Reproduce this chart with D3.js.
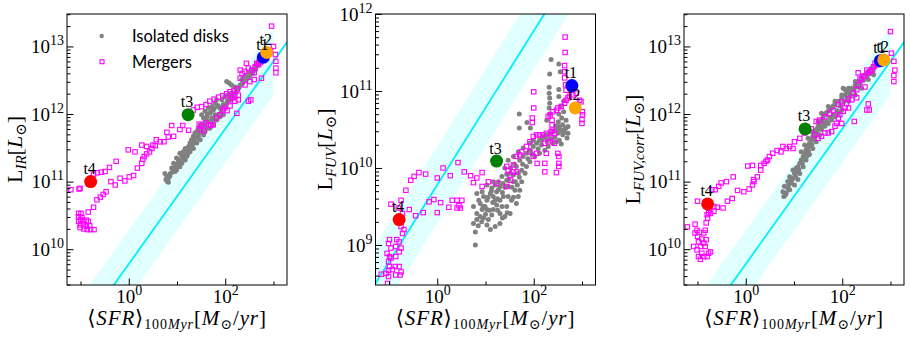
<!DOCTYPE html>
<html><head><meta charset="utf-8">
<script src="https://cdn.jsdelivr.net/npm/d3@7"></script>
<style>html,body{margin:0;padding:0;background:#fff}svg{display:block}</style>
</head><body><svg id="c" width="910" height="338"></svg>
<script>
// ---------- DATA (stored as log10: [log10 SFR, log10 L]) ----------
const isoIR = [[0.77,11.03],[0.82,10.99],[0.79,11.08],[0.86,11.12],[0.75,11.12],[0.89,11.20],[0.96,11.22],[0.93,11.27],[1.03,11.28],[0.99,11.35],[1.10,11.37],[1.06,11.42],[1.13,11.44],[1.17,11.49],[0.96,11.15],[1.10,11.27],[1.20,11.37],[1.24,11.52],[1.27,11.57],[1.30,11.62],[1.34,11.67],[1.37,11.72],[1.41,11.74],[1.44,11.79],[1.48,11.84],[1.55,11.86],[1.27,11.44],[1.34,11.49],[1.41,11.57],[1.48,11.62],[1.55,11.69],[1.58,11.74],[1.62,11.79],[1.51,11.99],[1.58,12.04],[1.65,12.09],[1.72,12.11],[1.79,12.16],[1.82,12.21],[1.68,12.01],[1.75,12.06],[1.86,12.11],[1.68,11.79],[1.75,11.84],[1.82,11.91],[1.89,11.96],[1.96,11.99],[1.93,12.21],[1.99,12.26],[2.06,12.28],[2.13,12.31],[2.03,12.16],[2.10,12.21],[2.17,12.24],[2.03,12.48],[2.08,12.46],[2.13,12.43],[2.20,12.40],[2.27,12.37],[2.24,12.38],[2.31,12.43],[2.37,12.48],[2.44,12.53],[2.51,12.58],[2.58,12.63],[2.34,12.51],[2.41,12.56],[2.48,12.61],[2.55,12.65],[2.62,12.70],[2.65,12.75],[2.69,12.78],[2.72,12.80],[2.75,12.83],[0.82,11.05],[0.99,11.17],[1.06,11.22],[1.17,11.32],[1.17,11.40],[1.24,11.44],[1.30,11.52],[1.37,11.59],[1.44,11.67],[1.51,11.74],[1.58,11.82],[1.65,11.89],[1.62,11.96],[1.72,11.94],[1.79,11.99],[1.89,12.09],[1.96,12.14],[2.10,12.26],[2.20,12.31],[2.24,12.36],[0.80,11.00],[0.85,11.08],[0.90,11.14],[0.95,11.19],[1.00,11.24],[1.03,11.32],[1.08,11.30],[1.12,11.35],[1.14,11.41],[1.20,11.45],[1.22,11.40],[1.26,11.49],[1.32,11.55],[1.35,11.62],[1.39,11.64],[1.42,11.70],[1.46,11.72],[1.50,11.78],[1.53,11.81],[1.57,11.86],[1.60,11.90],[1.55,11.94],[1.63,12.00],[1.70,12.03],[1.77,12.08],[1.84,12.13],[1.70,11.88],[1.77,11.92],[1.85,11.98],[1.92,12.03],[1.99,12.10],[2.05,12.20],[2.13,12.27],[2.22,12.33],[2.29,12.40],[2.36,12.45],[2.43,12.50],[2.50,12.55],[2.57,12.60],[2.63,12.66],[2.68,12.72],[2.78,12.85],[2.70,12.75],[2.60,12.66]];

const mergersIR = [[-1.04,10.53],[-0.99,10.53],[-1.04,10.48],[-1.00,10.44],[-1.04,10.41],[-0.95,10.42],[-0.88,10.43],[-0.84,10.41],[-0.94,10.37],[-1.01,10.32],[-0.93,10.30],[-0.86,10.29],[-0.79,10.29],[-0.72,10.29],[-0.81,10.35],[-0.88,10.34],[-1.00,10.36],[-0.97,10.47],[-0.84,10.55],[-0.73,10.62],[-0.66,10.73],[-0.59,10.77],[-0.53,10.81],[-0.47,10.85],[-0.37,11.00],[-0.28,10.95],[-0.18,11.05],[-0.08,11.01],[0.01,11.07],[0.10,11.09],[0.18,11.20],[0.27,11.27],[0.29,11.33],[0.32,11.37],[0.37,11.41],[0.43,11.44],[0.48,11.49],[0.55,11.53],[-1.20,10.88],[-1.03,10.89],[-1.01,10.90],[-0.73,11.11],[-0.65,11.13],[-0.57,11.14],[-0.49,11.15],[-0.40,11.21],[-0.26,11.30],[-0.01,11.47],[0.13,11.44],[0.27,11.54],[0.37,11.52],[0.50,11.54],[0.57,11.62],[0.65,11.59],[0.73,11.59],[0.79,11.73],[0.89,11.83],[0.82,11.66],[0.93,11.67],[1.06,11.77],[1.12,11.83],[1.24,11.76],[1.34,12.06],[1.42,12.10],[1.51,12.11],[1.60,12.14],[1.68,12.19],[1.77,12.22],[1.86,12.25],[1.95,12.27],[2.03,12.30],[2.10,12.33],[2.18,12.35],[2.25,12.37],[1.46,11.85],[1.51,11.82],[1.56,11.75],[1.60,11.87],[1.65,11.84],[1.70,11.83],[1.75,11.84],[1.48,11.77],[1.82,11.94],[1.89,11.99],[1.95,12.06],[1.99,12.09],[2.04,12.05],[2.10,12.12],[2.24,12.01],[2.48,12.19],[2.53,12.21],[2.10,12.21],[2.15,12.24],[2.20,12.27],[2.27,12.28],[2.27,12.21],[2.20,12.19],[2.31,12.65],[2.35,12.60],[2.40,12.63],[2.44,12.75],[2.48,12.68],[2.55,12.65],[2.60,12.61],[2.65,12.75],[2.71,12.79],[2.75,12.53],[2.41,12.43],[2.51,12.48],[2.60,12.51],[2.31,12.53],[2.96,13.30],[3.00,13.00],[3.04,12.88],[3.05,12.78],[3.05,12.68],[3.05,12.61],[2.79,12.83],[2.82,12.86],[2.89,12.91],[2.94,12.94],[2.62,12.70],[2.69,12.73],[2.73,12.76]];

const isoFUV = [[0.79,9.00],[0.79,9.17],[0.75,9.28],[0.82,9.33],[0.89,9.37],[0.82,9.41],[0.93,9.46],[0.99,9.50],[0.89,9.54],[1.03,9.58],[0.96,9.63],[1.10,9.67],[1.06,9.33],[1.13,9.39],[1.16,9.46],[1.23,9.52],[1.20,9.58],[1.13,9.74],[1.23,9.69],[1.30,9.76],[1.27,9.82],[1.37,9.63],[1.34,9.50],[1.40,9.37],[1.30,9.28],[1.20,9.24],[1.10,9.20],[1.03,9.26],[0.96,9.35],[1.47,9.76],[1.44,9.84],[1.34,9.89],[1.40,10.00],[1.51,9.93],[1.58,9.91],[1.58,9.82],[1.68,9.63],[1.64,9.54],[1.54,9.58],[1.71,9.71],[1.75,9.82],[1.82,9.93],[0.86,9.58],[0.93,9.69],[1.03,9.78],[1.16,9.82],[1.16,9.63],[1.30,9.58],[1.44,9.50],[1.47,9.63],[1.61,9.71],[1.30,9.41],[1.03,9.46],[0.75,9.50],[0.82,9.67],[1.51,9.41],[1.64,10.02],[1.71,10.10],[1.78,10.15],[1.85,10.19],[1.92,10.23],[1.99,10.28],[2.06,10.32],[2.12,10.36],[2.19,10.39],[2.26,10.41],[2.33,10.45],[2.40,10.47],[2.47,10.49],[2.53,10.52],[2.60,10.56],[2.67,10.62],[2.67,10.52],[2.71,10.45],[2.60,10.43],[2.53,10.36],[2.47,10.34],[2.40,10.32],[2.30,10.28],[2.23,10.23],[2.12,10.19],[2.02,10.15],[1.92,10.08],[1.85,10.02],[1.75,9.97],[1.68,9.93],[2.36,11.41],[2.52,11.35],[2.33,11.22],[2.55,11.25],[2.32,11.05],[2.32,10.97],[2.33,10.91],[2.33,10.84],[2.32,10.78],[2.52,11.02],[2.52,10.93],[2.62,10.87],[2.55,10.80],[2.62,10.73],[1.70,10.70],[1.86,10.59],[1.70,10.52],[1.93,10.52],[2.27,10.62],[2.51,10.60],[2.52,10.54],[2.64,10.46],[2.69,10.39],[2.71,10.54],[2.26,10.43],[2.19,10.41],[2.16,10.36],[2.57,10.31],[1.47,10.10],[1.58,10.15],[1.68,10.21],[1.78,10.26],[1.92,10.32],[1.99,10.36],[0.85,9.25],[0.92,9.30],[1.00,9.40],[1.08,9.45],[1.15,9.55],[1.25,9.60],[1.35,9.68],[1.40,9.75],[1.48,9.85],[1.55,9.75],[1.62,9.82],[1.70,9.88],[0.95,9.50],[1.05,9.62],[1.12,9.70],[1.20,9.78],[1.27,9.72],[1.36,9.80],[1.44,9.92],[1.52,10.00],[1.60,10.05],[1.25,9.45],[1.35,9.35],[1.45,9.42],[1.58,9.62],[1.66,9.78],[1.77,10.05],[1.88,10.12],[1.96,10.18],[2.09,10.25],[2.16,10.30],[2.28,10.35],[2.36,10.38],[2.44,10.40],[2.50,10.45],[2.56,10.48],[2.63,10.50],[2.45,10.55],[2.58,10.65],[2.33,10.70],[2.52,10.70]];

const mergersFUV = [[-1.16,8.62],[-1.06,8.63],[-1.01,8.59],[-0.99,8.72],[-1.01,8.78],[-0.96,8.83],[-1.04,8.89],[-0.96,8.96],[-1.01,9.02],[-0.99,9.07],[-0.84,9.07],[-0.79,9.04],[-0.86,8.98],[-0.79,8.91],[-0.86,8.85],[-0.79,8.72],[-0.75,8.65],[-0.77,8.61],[-0.86,8.61],[-0.93,8.68],[-1.03,8.50],[-1.01,8.67],[-0.87,8.72],[-0.99,8.85],[-0.75,8.96],[-0.72,9.15],[-0.69,9.20],[-0.75,9.24],[-0.82,9.33],[-0.72,9.41],[-0.75,9.58],[-0.65,9.71],[-0.96,9.53],[-0.81,9.48],[-0.55,9.84],[-0.48,9.89],[-0.38,9.94],[-0.24,9.92],[-0.58,9.46],[-0.45,9.38],[-0.29,9.42],[-0.17,9.56],[-0.07,9.59],[0.00,9.87],[0.12,10.00],[0.27,9.90],[0.43,10.07],[0.56,9.95],[0.00,9.42],[0.07,9.55],[0.24,9.49],[0.31,9.58],[0.41,9.58],[0.45,9.51],[0.48,9.48],[0.51,9.58],[0.41,9.48],[0.69,9.90],[0.75,9.81],[0.82,9.87],[0.93,9.76],[0.93,9.94],[1.06,9.82],[1.23,9.80],[1.47,9.97],[1.51,9.91],[1.58,9.95],[1.64,9.95],[1.44,9.76],[1.52,9.84],[1.44,10.02],[1.58,10.04],[1.64,10.15],[1.71,10.17],[1.75,10.21],[1.85,10.28],[1.92,10.34],[1.99,10.41],[2.06,10.43],[2.12,10.43],[2.19,10.43],[2.26,10.45],[2.36,10.47],[2.43,10.45],[2.36,10.39],[2.30,10.34],[2.23,10.32],[2.43,10.32],[1.99,10.15],[1.92,10.21],[2.06,10.19],[2.07,10.06],[2.23,10.06],[2.26,10.19],[2.23,9.95],[2.47,9.94],[2.50,10.19],[2.52,10.15],[2.52,10.06],[2.52,10.02],[2.00,10.99],[2.00,10.78],[1.97,10.65],[1.97,10.59],[2.30,10.67],[2.34,10.69],[2.40,10.73],[2.47,10.75],[2.50,10.78],[2.57,10.80],[2.64,10.84],[2.67,10.88],[2.71,10.91],[2.74,10.93],[2.81,10.95],[2.88,10.97],[2.95,10.88],[2.98,10.86],[3.01,10.73],[3.01,10.69],[3.00,10.63],[3.00,10.58],[2.38,10.62],[2.38,10.56],[2.38,10.49],[2.65,11.70],[2.65,11.50],[2.64,11.33],[2.64,11.25],[2.64,11.17],[2.66,11.08],[2.67,11.01]];

const isoFUVcorr = [[0.79,10.78],[0.77,10.85],[0.84,10.83],[0.80,10.93],[0.87,10.90],[0.87,11.00],[0.94,10.98],[0.91,11.07],[0.98,11.05],[1.01,11.12],[1.05,11.20],[0.98,11.17],[1.08,11.22],[1.12,11.27],[1.15,11.32],[1.19,11.37],[1.22,11.42],[1.15,11.44],[1.25,11.47],[1.29,11.52],[1.22,11.54],[1.32,11.57],[1.36,11.62],[1.29,11.64],[1.39,11.67],[1.43,11.72],[1.36,11.74],[1.46,11.77],[1.50,11.82],[1.53,11.86],[1.57,11.91],[1.50,11.89],[1.60,11.94],[1.64,11.99],[1.71,12.04],[1.78,12.09],[1.85,12.14],[1.92,12.19],[1.99,12.24],[2.06,12.28],[2.13,12.33],[2.20,12.38],[2.27,12.43],[2.33,12.48],[2.40,12.53],[2.47,12.58],[2.54,12.63],[2.61,12.68],[2.68,12.70],[2.75,12.75],[2.82,12.78],[1.57,11.77],[1.64,11.82],[1.71,11.86],[1.78,11.91],[1.85,11.96],[1.92,12.01],[1.99,12.06],[2.13,12.19],[2.27,12.28],[2.40,12.38],[2.54,12.51],[2.65,12.58],[1.57,12.01],[1.71,12.11],[1.85,12.19],[1.99,12.28],[2.13,12.38],[2.27,12.48],[2.02,12.38],[2.06,12.36],[2.09,12.33],[2.14,12.31],[0.91,10.88],[1.01,10.95],[1.08,11.03],[1.12,11.12],[1.19,11.22],[1.25,11.32],[1.32,11.40],[1.39,11.49],[1.46,11.59],[1.53,11.69],[0.82,10.80],[0.89,10.95],[0.95,11.02],[1.03,11.08],[1.06,11.15],[1.10,11.18],[1.17,11.27],[1.20,11.33],[1.27,11.38],[1.30,11.45],[1.34,11.52],[1.37,11.55],[1.41,11.62],[1.44,11.67],[1.48,11.72],[1.52,11.78],[1.55,11.82],[1.62,11.87],[1.60,11.99],[1.67,12.02],[1.74,12.07],[1.81,12.12],[1.68,11.89],[1.75,11.95],[1.82,11.99],[1.89,12.05],[1.96,12.12],[2.03,12.18],[2.10,12.23],[2.17,12.28],[2.24,12.35],[2.31,12.40],[2.37,12.45],[2.44,12.50],[2.51,12.56],[2.58,12.60],[2.64,12.64],[2.72,12.72],[2.78,12.76]];

const mergersFUVcorr = [[-1.21,10.33],[-1.05,10.37],[-1.01,10.28],[-1.05,10.24],[-1.00,10.19],[-1.08,10.04],[-1.01,9.99],[-0.94,10.04],[-0.98,10.11],[-0.91,10.15],[-0.87,10.24],[-0.82,10.14],[-0.84,10.04],[-0.91,9.94],[-0.98,9.89],[-0.94,9.85],[-0.87,9.89],[-0.80,9.89],[-0.77,9.94],[-0.73,9.96],[-0.96,10.25],[-0.87,10.09],[-0.84,10.28],[-0.82,10.39],[-0.79,10.46],[-0.80,10.51],[-0.77,10.54],[-0.66,10.63],[-0.59,10.62],[-0.47,10.61],[-0.66,10.56],[-0.73,10.53],[-1.00,10.71],[-0.70,10.88],[-0.63,10.88],[-0.56,10.93],[-0.51,10.98],[-0.40,11.00],[-0.26,11.07],[-0.38,10.71],[-0.28,10.75],[-0.17,10.87],[-0.04,10.85],[0.07,10.89],[0.14,10.95],[0.17,11.00],[0.24,11.07],[0.31,11.17],[0.31,11.24],[0.38,11.27],[0.42,11.30],[0.45,11.32],[0.16,11.03],[0.04,11.23],[0.14,11.24],[0.49,11.37],[0.56,11.42],[0.65,11.46],[0.73,11.44],[0.77,11.52],[0.84,11.49],[0.91,11.52],[0.98,11.49],[1.01,11.59],[1.12,11.64],[1.22,11.72],[1.36,11.78],[1.46,11.89],[1.53,11.91],[1.64,11.96],[1.74,12.01],[1.81,12.05],[1.92,12.14],[1.99,12.18],[2.09,12.16],[2.13,12.23],[2.20,12.21],[2.30,12.24],[1.43,11.69],[1.50,11.64],[1.57,11.67],[1.64,11.72],[1.71,11.72],[1.78,11.74],[1.85,11.82],[1.88,11.86],[1.92,11.94],[1.95,11.99],[2.02,12.04],[2.06,12.09],[2.13,12.09],[1.99,11.86],[2.25,11.89],[2.51,12.06],[2.56,12.06],[2.54,12.15],[2.23,12.31],[2.30,12.36],[2.33,12.43],[2.40,12.51],[2.47,12.56],[2.54,12.61],[2.61,12.65],[2.65,12.70],[2.68,12.75],[2.75,12.78],[2.79,12.80],[2.33,12.61],[2.37,12.53],[2.44,12.56],[2.51,12.65],[2.58,12.63],[2.47,12.40],[2.72,12.73],[3.00,13.22],[3.02,12.90],[3.07,12.78],[3.09,12.65],[3.07,12.57],[3.07,12.48]];

// snapshots t1..t4 (log10)
const snapNames = ["t1", "t2", "t3", "t4"];
const snapSFR = [2.79, 2.86, 1.23, -0.79];
const snapIR = [12.84, 12.91, 11.99, 11.00];
const snapFUV = [11.07, 10.78, 10.09, 9.33];
const snapFUVcorr = [12.79, 12.80, 11.78, 10.67];

// Kennicutt relation: log10 L = log10 SFR + 9.78, shaded +/- 0.5 dex
const relLogK = 9.78;
const relBandDex = 0.5;
const relLineSFR = [1e-3, 1e4];
const relBandSFR = [1e-3, 1e3];

const legendLabels = ["Isolated disks", "Mergers"];
const xTickExp = [0, 2];
const xMinorExp = [-1, 1, 3];

// ---------- STYLE / LAYOUT ----------
const snapColors = ["#0000ff", "#ffa500", "#008000", "#ff0000"];
const SERIF = "'Liberation Serif','DejaVu Serif',serif";
const SANS = "Lato,'Open Sans',sans-serif";
const TOP = 14, BOTTOM = 285, W = 220;
const xLogDomain = [-1.28, 3.28];
const panels = [
  {left: 67, yLog: [9.47, 13.48], iso: isoIR, mer: mergersIR, snap: snapIR, sub: "IR", labX: 22, legend: true},
  {left: 375.5, yLog: [8.48, 12.0], iso: isoFUV, mer: mergersFUV, snap: snapFUV, sub: "FUV", labX: 332},
  {left: 684, yLog: [9.47, 13.48], iso: isoFUVcorr, mer: mergersFUVcorr, snap: snapFUVcorr, sub: "FUV,corr", labX: 639.5}
];

const svg = d3.select("#c");
const pow = v => Math.pow(10, v);
const toVal = d => [pow(d[0]), pow(d[1])];

panels.forEach((p, i) => {
  const x = d3.scaleLog().domain(xLogDomain.map(pow)).range([p.left, p.left + W]);
  const y = d3.scaleLog().domain(p.yLog.map(pow)).range([BOTTOM, TOP]);
  const cid = "clip" + i;
  svg.append("clipPath").attr("id", cid).append("rect")
    .attr("x", p.left).attr("y", TOP).attr("width", W).attr("height", BOTTOM - TOP);
  const g = svg.append("g").attr("clip-path", `url(#${cid})`);

  const K = pow(relLogK), B = pow(relBandDex);
  g.append("path").datum(relBandSFR)
    .attr("d", d3.area().x(d => x(d)).y0(d => y(d * K / B)).y1(d => y(d * K * B)))
    .attr("fill", "#e0ffff");
  g.append("path").datum(relLineSFR)
    .attr("d", d3.line().x(d => x(d)).y(d => y(d * K)))
    .attr("fill", "none").attr("stroke", "#00eeff").attr("stroke-width", 1.8);

  g.selectAll("circle.iso").data(p.iso.map(toVal)).join("circle").attr("class", "iso")
    .attr("cx", d => x(d[0])).attr("cy", d => y(d[1])).attr("r", 2.5).attr("fill", "#808080");

  const s = 4.4;
  g.selectAll("rect.mer").data(p.mer.map(toVal)).join("rect").attr("class", "mer")
    .attr("x", d => x(d[0]) - s / 2).attr("y", d => y(d[1]) - s / 2)
    .attr("width", s).attr("height", s)
    .attr("fill", "none").attr("stroke", "#ff00ff").attr("stroke-width", 1.1);

  snapNames.forEach((n, k) => {
    g.append("circle").attr("cx", x(pow(snapSFR[k]))).attr("cy", y(pow(p.snap[k])))
      .attr("r", 6.5).attr("fill", snapColors[k]);
  });
  snapNames.forEach((n, k) => {
    g.append("text").attr("x", x(pow(snapSFR[k])) - 1).attr("y", y(pow(p.snap[k])) - 7.5)
      .attr("text-anchor", "middle").attr("font-family", SERIF).attr("font-size", 16)
      .attr("fill", "#000").text(n);
  });

  // y axis
  const yMaj = [], yMin = [];
  for (let e = Math.floor(p.yLog[0]); e <= Math.ceil(p.yLog[1]); e++) {
    if (e >= p.yLog[0] && e <= p.yLog[1]) yMaj.push(pow(e));
    for (let m = 2; m <= 9; m++) {
      const v = m * pow(e);
      if (Math.log10(v) >= p.yLog[0] && Math.log10(v) <= p.yLog[1]) yMin.push(v);
    }
  }
  const ay = svg.append("g").attr("transform", `translate(${p.left},0)`)
    .call(d3.axisLeft(y).tickValues(yMaj).tickSizeInner(-6.5).tickSizeOuter(0).tickPadding(3).tickFormat(() => ""));
  ay.select(".domain").remove();
  ay.attr("font-family", SERIF).attr("font-size", 19).attr("color", "#000");
  ay.selectAll(".tick text").each(function(d) {
    const t = d3.select(this);
    t.append("tspan").text("10");
    t.append("tspan").attr("dy", -8).attr("font-size", 14).text(Math.round(Math.log10(d)));
  });
  const ayMin = svg.append("g").attr("transform", `translate(${p.left},0)`)
    .call(d3.axisLeft(y).tickValues(yMin).tickSizeInner(-3.5).tickSizeOuter(0).tickFormat(() => ""));
  ayMin.select(".domain").remove();
  ayMin.attr("color", "#000");

  // x axis
  const ax = svg.append("g").attr("transform", `translate(0,${BOTTOM})`)
    .call(d3.axisBottom(x).tickValues(xTickExp.map(pow)).tickSizeInner(-6.5).tickSizeOuter(0).tickFormat(() => ""));
  ax.select(".domain").remove();
  ax.attr("font-family", SERIF).attr("font-size", 19).attr("color", "#000");
  ax.selectAll(".tick text").attr("y", 18).attr("dy", 0).each(function(d) {
    const t = d3.select(this);
    t.append("tspan").text("10");
    t.append("tspan").attr("dy", -8).attr("font-size", 14).text(Math.round(Math.log10(d)));
  });
  const axMin = svg.append("g").attr("transform", `translate(0,${BOTTOM})`)
    .call(d3.axisBottom(x).tickValues(xMinorExp.map(pow)).tickSizeInner(-3.5).tickSizeOuter(0).tickFormat(() => ""));
  axMin.select(".domain").remove();
  axMin.attr("color", "#000");

  // frame
  svg.append("rect").attr("x", p.left).attr("y", TOP).attr("width", W).attr("height", BOTTOM - TOP)
    .attr("fill", "none").attr("stroke", "#000").attr("stroke-width", 1);

  // x label
  const cx = p.left + W / 2;
  const xl = svg.append("text").attr("x", cx).attr("y", 325).attr("text-anchor", "middle")
    .attr("font-family", SERIF).attr("font-size", 21).attr("letter-spacing", 0.9).attr("fill", "#000");
  xl.append("tspan").text("\u27E8");
  xl.append("tspan").attr("font-style", "italic").text("SFR");
  xl.append("tspan").text("\u27E9");
  xl.append("tspan").attr("font-size", 14).attr("dy", 4).text("100");
  xl.append("tspan").attr("font-size", 14).attr("font-style", "italic").text("Myr");
  xl.append("tspan").attr("dy", -4).text("[");
  xl.append("tspan").attr("font-style", "italic").text("M");
  xl.append("tspan").attr("font-size", 14).attr("dy", 4).text("\u2299");
  xl.append("tspan").attr("dy", -4).text("/");
  xl.append("tspan").attr("font-style", "italic").text("yr");
  xl.append("tspan").text("]");

  // y label
  const yl = svg.append("text").attr("transform", `translate(${p.labX},${(TOP + BOTTOM) / 2}) rotate(-90)`)
    .attr("text-anchor", "middle").attr("font-family", SERIF).attr("font-size", 22).attr("fill", "#000");
  yl.append("tspan").text("L");
  yl.append("tspan").attr("font-size", 15).attr("font-style", "italic").attr("dy", 4).text(p.sub);
  yl.append("tspan").attr("dy", -4).text("[");
  yl.append("tspan").attr("font-style", "italic").text("L");
  yl.append("tspan").attr("font-size", 15).attr("dy", 4).text("\u2299");
  yl.append("tspan").attr("dy", -4).text("]");

  if (p.legend) {
    const lg = svg.append("g");
    lg.append("circle").attr("cx", 101.7).attr("cy", 36).attr("r", 2.2).attr("fill", "#808080");
    lg.append("rect").attr("x", 102 - 2).attr("y", 61.7 - 2).attr("width", 4).attr("height", 4)
      .attr("fill", "none").attr("stroke", "#ff00ff").attr("stroke-width", 1.1);
    legendLabels.forEach((t, k) => {
      lg.append("text").attr("x", 132).attr("y", 42 + k * 25.5).attr("font-family", SANS)
        .attr("font-size", 16.5).attr("fill", "#000").text(t);
    });
  }
});
</script>
</body></html>
